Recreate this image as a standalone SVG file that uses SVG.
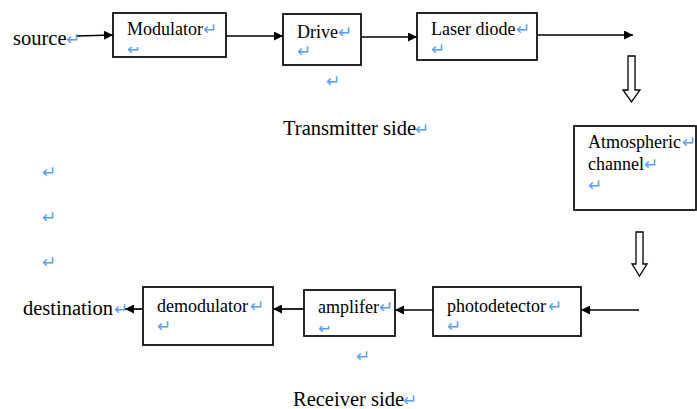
<svg xmlns="http://www.w3.org/2000/svg" width="697" height="409" viewBox="0 0 697 409">
<style>
.box{fill:#fff;stroke:#000;stroke-width:1.7}
.t{font-family:'Liberation Serif','Times New Roman',Times,serif;font-size:18px;fill:#000}
.big{font-size:20.5px}
.pm{font-family:'DejaVu Sans',sans-serif;font-size:17px;fill:#5aa0e8}
.ln{stroke:#000;stroke-width:1.7;fill:none;marker-end:url(#ah)}
.hol{fill:#fff;stroke:#000;stroke-width:1.3}
</style>
<defs>
<marker id="ah" viewBox="0 0 10 10" refX="10" refY="5" markerWidth="11" markerHeight="9" markerUnits="userSpaceOnUse" orient="auto">
<path d="M0,0 L10,5 L0,10 Z" fill="#000"/>
</marker>
<clipPath id="cm"><rect x="120" y="47" width="20" height="10"/></clipPath>
<clipPath id="ca"><rect x="312" y="326" width="20" height="10"/></clipPath>
</defs>

<g id="connectors">
<line class="ln" x1="76" y1="36" x2="113" y2="35"/>
<line class="ln" x1="226" y1="36" x2="283" y2="36"/>
<line class="ln" x1="361" y1="37" x2="417" y2="37"/>
<line class="ln" x1="537" y1="35" x2="633" y2="35"/>
<polygon class="hol" points="628,56 635,56 635,90 640,90 631.5,102 623,90 628,90"/>
<polygon class="hol" points="636,232 643,232 643,264 647,264 639.5,276 632,264 636,264"/>
<line class="ln" x1="639" y1="310" x2="581" y2="310"/>
<line class="ln" x1="433" y1="310" x2="395" y2="310"/>
<line class="ln" x1="304" y1="309" x2="273" y2="309"/>
<line class="ln" x1="143" y1="309" x2="125" y2="309"/>
</g>

<g id="source">
<text class="t big" x="13" y="45">source</text>
<text class="pm" x="66" y="45">↵</text>
</g>

<g id="modulator">
<rect class="box" x="113" y="13" width="113" height="44"/>
<text class="t" x="127" y="35">Modulator</text>
<text class="pm" x="203" y="35">↵</text>
<text class="pm" x="127" y="55" clip-path="url(#cm)">↵</text>
</g>

<g id="drive">
<rect class="box" x="283" y="14" width="78" height="51"/>
<text class="t" x="297" y="38">Drive</text>
<text class="pm" x="338" y="38">↵</text>
<text class="pm" x="297" y="57">↵</text>
</g>

<g id="laser">
<rect class="box" x="417" y="13" width="120" height="47"/>
<text class="t" x="431" y="35">Laser diode</text>
<text class="pm" x="516" y="35">↵</text>
<text class="pm" x="431" y="55">↵</text>
</g>

<text class="pm" x="326" y="87">↵</text>

<g id="transmitter-label">
<text class="t big" x="283" y="135">Transmitter side</text>
<text class="pm" x="415" y="135">↵</text>
</g>

<g id="channel">
<rect class="box" x="574" y="126" width="122" height="84"/>
<text class="t" x="588" y="148">Atmospheric</text>
<text class="pm" x="682" y="148">↵</text>
<text class="t" x="588" y="170">channel</text>
<text class="pm" x="644" y="170">↵</text>
<text class="pm" x="588" y="191">↵</text>
</g>

<text class="pm" x="42" y="178">↵</text>
<text class="pm" x="42" y="223">↵</text>
<text class="pm" x="42" y="268">↵</text>

<g id="photodetector">
<rect class="box" x="433" y="287" width="148" height="49"/>
<text class="t" x="447" y="312">photodetector</text>
<text class="pm" x="548" y="312">↵</text>
<text class="pm" x="447" y="332">↵</text>
</g>

<g id="amplifier">
<rect class="box" x="304" y="290" width="91" height="46"/>
<text class="t" x="318" y="313">amplifer</text>
<text class="pm" x="379" y="313">↵</text>
<text class="pm" x="318" y="334" clip-path="url(#ca)">↵</text>
</g>

<text class="pm" x="356" y="362">↵</text>

<g id="demodulator">
<rect class="box" x="143" y="287" width="130" height="58"/>
<text class="t" x="157" y="312">demodulator</text>
<text class="pm" x="250" y="312">↵</text>
<text class="pm" x="157" y="332">↵</text>
</g>

<g id="destination">
<text class="t big" x="23" y="315">destination</text>
<text class="pm" x="114" y="315">↵</text>
</g>

<g id="receiver-label">
<text class="t big" x="293" y="406">Receiver side</text>
<text class="pm" x="403" y="406">↵</text>
</g>
</svg>
